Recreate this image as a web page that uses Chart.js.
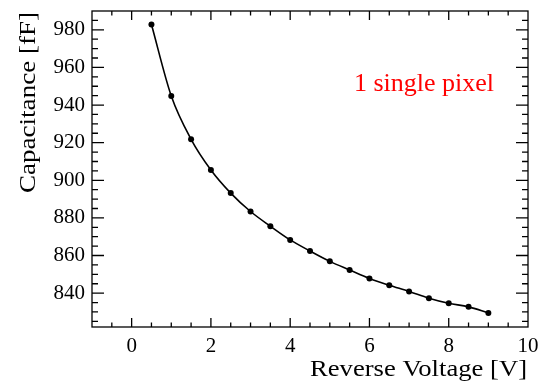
<!DOCTYPE html>
<html>
<head>
<meta charset="utf-8">
<script src="https://cdn.jsdelivr.net/npm/chart.js@4/dist/chart.umd.min.js"></script>
<style>
  html, body { margin: 0; padding: 0; background: #fff; }
  #wrap { width: 538px; height: 381px; }
</style>
</head>
<body>
<div id="wrap"><canvas id="cvChart"></canvas></div>
<script>
// --- DATA ---
const voltages = [0.5, 1, 1.5, 2, 2.5, 3, 3.5, 4, 4.5, 5, 5.5, 6, 6.5, 7, 7.5, 8, 8.5, 9];
const capacitance = [982.8, 944.8, 921.8, 905.5, 893.2, 883.4, 875.6, 868.3, 862.4, 856.9,
                     852.3, 847.8, 844.2, 840.9, 837.3, 834.6, 832.7, 829.5];
const xTicks = [0, 2, 4, 6, 8, 10];
const yTicks = [840, 860, 880, 900, 920, 940, 960, 980];
const xTitle = 'Reverse Voltage [V]';
const yTitle = 'Capacitance [fF]';
const noteText = '1 single pixel';

const serif = '"Liberation Serif", "DejaVu Serif", serif';
Chart.defaults.font.family = serif;
Chart.defaults.color = '#000';

// draws text stretched along its length to a given width (the ROOT titles are wide)
function wideText(ctx, text, width) {
    const w = ctx.measureText(text).width;
    ctx.scale(width / w, 1);
    ctx.fillText(text, 0, 0);
}

// ROOT-style frame with ticks pointing inward on all four sides, plus titles and note
const frameTicks = {
    id: 'frameTicks',
    afterDraw(chart) {
        const { ctx, chartArea: a, scales } = chart;
        const xs = scales.x, ys = scales.y;
        ctx.save();
        ctx.strokeStyle = '#000';
        ctx.lineWidth = 1.3;
        ctx.strokeRect(a.left, a.top, a.right - a.left, a.bottom - a.top);
        ctx.beginPath();
        // x ticks: major every 2, minor every 0.5
        for (let v = -1; v <= 10.001; v += 0.5) {
            const px = xs.getPixelForValue(v);
            if (px <= a.left + 1 || px >= a.right - 1) continue;
            const len = Math.abs(v % 2) < 1e-6 ? 9 : 4.5;
            ctx.moveTo(px, a.bottom); ctx.lineTo(px, a.bottom - len);
            ctx.moveTo(px, a.top); ctx.lineTo(px, a.top + len);
        }
        // y ticks: major every 20, minor every 5
        for (let v = 825; v <= 990; v += 5) {
            const py = ys.getPixelForValue(v);
            if (py <= a.top + 1 || py >= a.bottom - 1) continue;
            const len = v % 20 === 0 ? 12 : 6;
            ctx.moveTo(a.left, py); ctx.lineTo(a.left + len, py);
            ctx.moveTo(a.right, py); ctx.lineTo(a.right - len, py);
        }
        ctx.stroke();

        // axis titles, right/top aligned like ROOT
        ctx.fillStyle = '#000';
        ctx.font = '23px ' + serif;
        ctx.textBaseline = 'alphabetic';
        ctx.textAlign = 'right';
        ctx.save();
        ctx.translate(a.right - 1, 376);
        wideText(ctx, xTitle, 217);
        ctx.restore();
        ctx.save();
        ctx.translate(35, a.top + 1);
        ctx.rotate(-Math.PI / 2);
        wideText(ctx, yTitle, 181);
        ctx.restore();

        // the red note inside the plot
        ctx.fillStyle = '#ff0000';
        ctx.font = '26px ' + serif;
        ctx.textAlign = 'left';
        ctx.fillText(noteText, 354, 91);
        ctx.restore();
    }
};

const ctx = document.getElementById('cvChart').getContext('2d');
new Chart(ctx, {
    type: 'line',
    data: {
        datasets: [{
            data: voltages.map((v, i) => ({ x: v, y: capacitance[i] })),
            borderColor: '#000',
            backgroundColor: '#000',
            borderWidth: 1.6,
            pointRadius: 3,
            pointBackgroundColor: '#000',
            pointBorderWidth: 0,
            cubicInterpolationMode: 'monotone',
            fill: false
        }]
    },
    options: {
        responsive: true,
        maintainAspectRatio: false,
        animation: false,
        layout: { padding: { left: 0, top: 11, right: 10, bottom: 0 } },
        plugins: { legend: { display: false }, tooltip: { enabled: false } },
        scales: {
            x: {
                type: 'linear',
                min: -1,
                max: 10,
                grid: { display: false, drawTicks: false },
                border: { display: false },
                afterBuildTicks: s => { s.ticks = xTicks.map(v => ({ value: v })); },
                ticks: { color: '#000', font: { family: serif, size: 21 }, padding: 7, maxRotation: 0 },
                afterFit: s => { s.height = 54; s.paddingLeft = 0; s.paddingRight = 0; }
            },
            y: {
                min: 822,
                max: 990,
                grid: { display: false, drawTicks: false },
                border: { display: false },
                afterBuildTicks: s => { s.ticks = yTicks.map(v => ({ value: v })); },
                ticks: { color: '#000', font: { family: serif, size: 21 }, padding: 7 },
                afterFit: s => { s.width = 92; s.paddingTop = 0; s.paddingBottom = 0; }
            }
        }
    },
    plugins: [frameTicks]
});
</script>
</body>
</html>
